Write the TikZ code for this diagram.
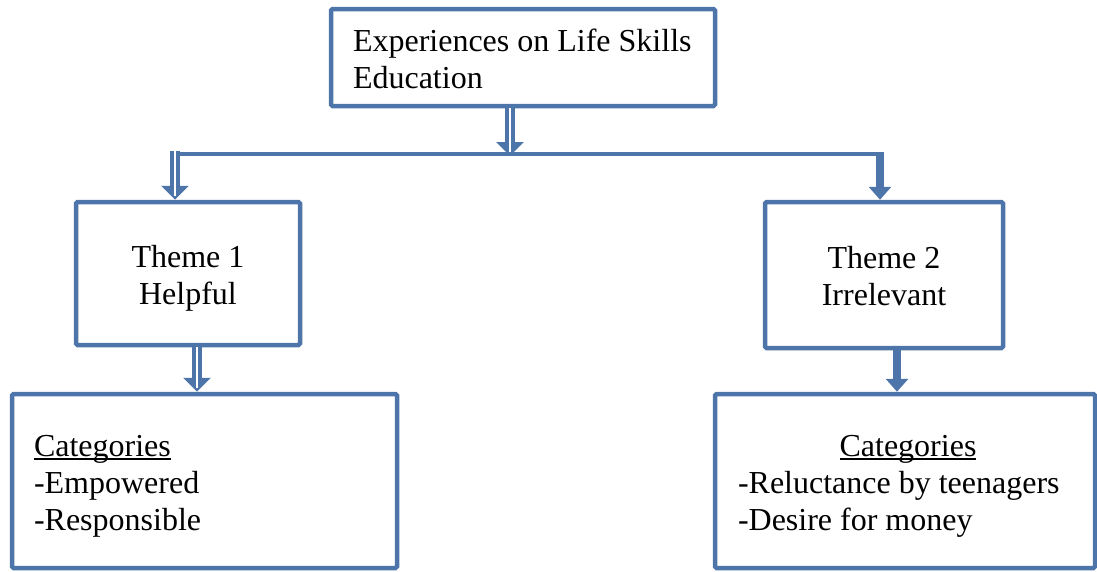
\documentclass[tikz,border=0pt]{standalone}
\usepackage{fontspec}
\setmainfont{Liberation Serif}
\usetikzlibrary{arrows.meta}
\definecolor{boxblue}{RGB}{77,117,170}
\newcommand\catline[1]{\setbox0\hbox{#1}\rlap{\rule[-3.5pt]{\wd0}{1.4pt}}\box0}
% fixed first-line height and last-line depth, so every box sets its lines alike
\newcommand\topstrut{\rule{0pt}{32pt}}
\newcommand\botstrut{\rule[-8pt]{0pt}{8pt}}
\begin{document}
\begin{tikzpicture}[x=1pt, y=-1pt,
    box/.style={draw=boxblue, line width=4.5pt, rounded corners=1.5pt, inner sep=0pt,
                font=\fontsize{32}{37}\selectfont},
    hollow/.style={draw=boxblue, line width=10pt, -{Triangle[width=27pt,length=14pt]},
                   postaction={draw=white, line width=2.6pt, -, shorten >=4pt}},
    solid/.style={draw=boxblue, line width=8pt, -{Triangle[width=22pt,length=13pt]}},
    branch/.style={draw=boxblue, line width=4.5pt}]
  \useasboundingbox (0,0) rectangle (1097,571);

  % boxes
  \node[box, minimum width=384pt, minimum height=97pt, text width=340pt, align=flush left]
    (top) at (523,57.5) {\topstrut\mbox{Experiences on Life Skills}\\Education\botstrut};
  \node[box, minimum width=224pt, minimum height=143pt, align=center]
    (theme1) at (188,273.5) {\topstrut Theme 1\\Helpful\botstrut};
  \node[box, minimum width=238pt, minimum height=146pt, align=center]
    (theme2) at (884,275) {\topstrut Theme 2\\Irrelevant\botstrut};
  \node[box, minimum width=385pt, minimum height=174pt, text width=341pt, align=flush left]
    (cat1) at (204.5,481) {\topstrut\catline{Categories}\\-Empowered\\-Responsible\botstrut};
  \node[box, minimum width=380pt, minimum height=174pt, text width=334pt, align=flush left]
    (cat2) at (905,481)
    {\topstrut\makebox[\linewidth][c]{\hspace{6pt}\catline{Categories}}\\
     \mbox{-Reluctance by teenagers}\\-Desire for money\botstrut};

  % branch line
  \coordinate (hub) at (510,156);
  \coordinate (lcorner) at (175,154);
  \coordinate (rcorner) at (880,154);
  \draw[branch] (lcorner) -- (rcorner);

  % arrows
  \draw[hollow] (top.south -| hub) -- (hub);
  \draw[hollow] ([yshift=3pt]lcorner) -- (lcorner |- theme1.north);
  \draw[solid] ([yshift=2pt]rcorner) -- (rcorner |- theme2.north);
  \draw[hollow] ([xshift=9pt]theme1.south) -- ([xshift=9pt]theme1.south |- cat1.north);
  \draw[solid] ([xshift=13pt]theme2.south) -- ([xshift=13pt]theme2.south |- cat2.north);
\end{tikzpicture}
\end{document}
